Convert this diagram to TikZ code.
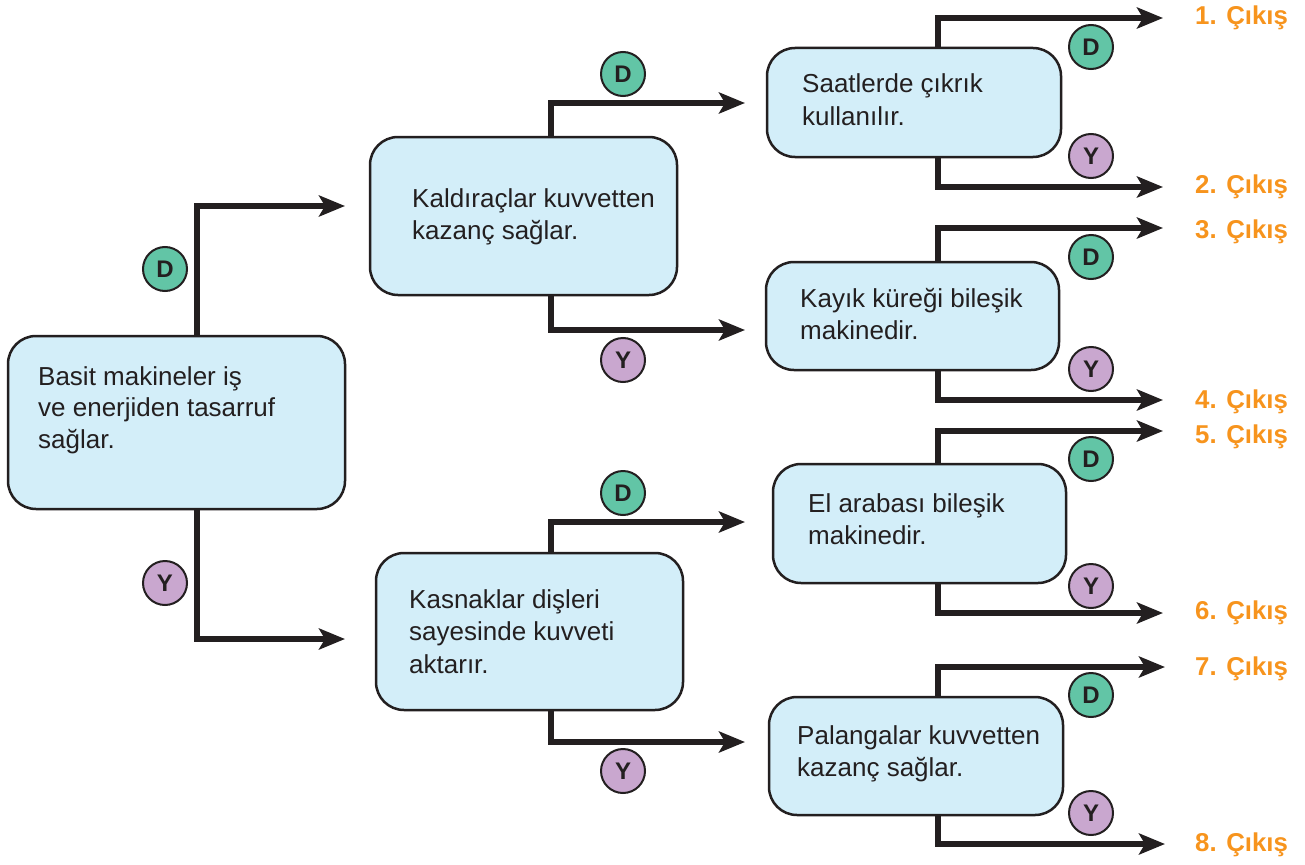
\documentclass[tikz,border=0pt]{standalone}
\usepackage{fontspec}
\setmainfont{Liberation Sans}
\usetikzlibrary{arrows.meta}
\definecolor{ink}{HTML}{231F20}
\definecolor{boxfill}{HTML}{D3EEF9}
\definecolor{dgreen}{HTML}{62C5A6}
\definecolor{ypurple}{HTML}{C9A7CF}
\definecolor{exitor}{HTML}{F7941D}
\newcommand\boxlines[1]{\parbox[t]{330pt}{\raggedright #1}}
\begin{document}
\begin{tikzpicture}[x=1pt,y=-1pt,
  box/.style={draw=ink, line width=2.5pt, fill=boxfill, rounded corners=28pt,
    inner sep=0pt, outer sep=0pt, anchor=north west},
  txt/.style={anchor=base west, inner sep=0pt, text=ink,
    font=\fontsize{26}{32.8}\selectfont},
  conn/.style={draw=ink, line width=5.5pt,
    -{Stealth[length=26pt,width=21pt,inset=6pt]}},
  mark base/.style={circle, draw=ink, line width=2pt, minimum size=44pt,
    inner sep=0pt, text=ink, font=\bfseries\fontsize{24}{24}\selectfont},
  yes/.style={mark base, fill=dgreen},
  no/.style={mark base, fill=ypurple},
  exitlbl/.style={anchor=base west, inner sep=0pt, text=exitor,
    font=\bfseries\fontsize{25.8}{26}\selectfont}
]
\useasboundingbox (0,0) rectangle (1305,864);
\fill[white] (0,0) rectangle (1305,864);

% boxes
\node[box, minimum width=337pt, minimum height=173pt] (root) at (8,336) {};
\node[box, minimum width=307pt, minimum height=158pt] (b1) at (370,137) {};
\node[box, minimum width=307pt, minimum height=157pt] (b2) at (376,553) {};
\node[box, minimum width=294pt, minimum height=109pt] (bA) at (767,48) {};
\node[box, minimum width=293pt, minimum height=108pt] (bB) at (766,262) {};
\node[box, minimum width=293pt, minimum height=119pt] (bC) at (773,464) {};
\node[box, minimum width=294pt, minimum height=118pt] (bD) at (769,697) {};

% texts
\node[txt, font=\fontsize{26}{31.5}\selectfont] (troot) at (38,385)
  {\boxlines{Basit makineler iş\\ve enerjiden tasarruf\\sağlar.}};
\node[txt] (tb1) at (412,207) {\boxlines{Kaldıraçlar kuvvetten\\kazanç sağlar.}};
\node[txt] (tb2) at (409,608) {\boxlines{Kasnaklar dişleri\\sayesinde kuvveti\\aktarır.}};
\node[txt] (tA) at (802,93) {\boxlines{Saatlerde çıkrık\\kullanılır.}};
\node[txt] (tB) at (800,307) {\boxlines{Kayık küreği bileşik\\makinedir.}};
\node[txt] (tC) at (808,512) {\boxlines{El arabası bileşik\\makinedir.}};
\node[txt] (tD) at (797,744) {\boxlines{Palangalar kuvvetten\\kazanç sağlar.}};

% arrow tip coordinates
\coordinate (r1) at (345,206);
\coordinate (r2) at (345,639);
\coordinate (p1) at (745,103);
\coordinate (p2) at (745,330);
\coordinate (p3) at (745,522);
\coordinate (p4) at (745,742);
\coordinate (q1) at (1163,18);
\coordinate (q2) at (1163,187);
\coordinate (q3) at (1163,228);
\coordinate (q4) at (1163,400);
\coordinate (q5) at (1163,431);
\coordinate (q6) at (1163,613);
\coordinate (q7) at (1165,667);
\coordinate (q8) at (1165,844);

% connectors
\draw[conn] (root.north -| 197,0) |- (r1);
\draw[conn] (root.south -| 197,0) |- (r2);
\draw[conn] (b1.north -| 551,0) |- (p1);
\draw[conn] (b1.south -| 551,0) |- (p2);
\draw[conn] (b2.north -| 551,0) |- (p3);
\draw[conn] (b2.south -| 551,0) |- (p4);
\draw[conn] (bA.north -| 938,0) |- (q1);
\draw[conn] (bA.south -| 938,0) |- (q2);
\draw[conn] (bB.north -| 938,0) |- (q3);
\draw[conn] (bB.south -| 938,0) |- (q4);
\draw[conn] (bC.north -| 938,0) |- (q5);
\draw[conn] (bC.south -| 938,0) |- (q6);
\draw[conn] (bD.north -| 938,0) |- (q7);
\draw[conn] (bD.south -| 938,0) |- (q8);

% D / Y marks
\node[yes] (dr) at (165,269) {D};
\node[no]  (yr) at (165,583) {Y};
\node[yes] (d1) at (623,74) {D};
\node[no]  (y1) at (623,360) {Y};
\node[yes] (d2) at (623,493) {D};
\node[no]  (y2) at (623,771) {Y};
\node[yes] (dA) at (1091,47) {D};
\node[no]  (yA) at (1091,156) {Y};
\node[yes] (dB) at (1091,257) {D};
\node[no]  (yB) at (1091,369) {Y};
\node[yes] (dC) at (1091,459) {D};
\node[no]  (yC) at (1091,586) {Y};
\node[yes] (dD) at (1091,695) {D};
\node[no]  (yD) at (1091,813) {Y};

% exit labels
\node[exitlbl] (e1) at (1195,25) {1. Çıkış};
\node[exitlbl] (e2) at (1195,193) {2. Çıkış};
\node[exitlbl] (e3) at (1195,238) {3. Çıkış};
\node[exitlbl] (e4) at (1195,408) {4. Çıkış};
\node[exitlbl] (e5) at (1195,443) {5. Çıkış};
\node[exitlbl] (e6) at (1195,619) {6. Çıkış};
\node[exitlbl] (e7) at (1195,675) {7. Çıkış};
\node[exitlbl] (e8) at (1195,851) {8. Çıkış};
\end{tikzpicture}
\end{document}
